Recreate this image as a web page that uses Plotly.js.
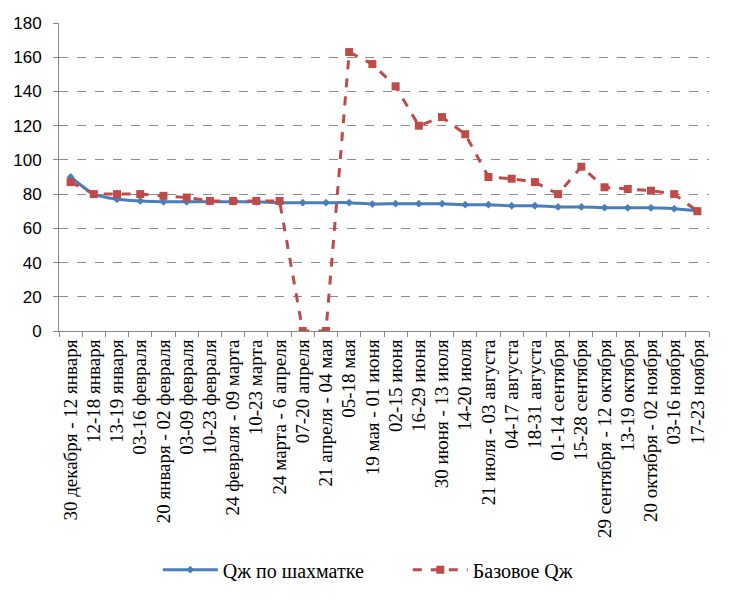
<!DOCTYPE html>
<html>
<head>
<meta charset="utf-8">
<script src="https://cdn.plot.ly/plotly-3.0.1.min.js"></script>
<style>html,body{margin:0;padding:0;background:#fff;}#chart{width:732px;height:602px;}</style>
</head>
<body>
<div id="chart"></div>
<script>
const categories = [
  "30 декабря - 12 января", "12-18 января", "13-19 января", "03-16 февраля",
  "20 января - 02 февраля", "03-09 февраля", "10-23 февраля", "24 февраля - 09 марта",
  "10-23 марта", "24 марта - 6 апреля", "07-20 апреля", "21 апреля - 04 мая",
  "05-18 мая", "19 мая - 01 июня", "02-15 июня", "16-29 июня",
  "30 июня - 13 июля", "14-20 июля", "21 июля - 03 августа", "04-17 августа",
  "18-31 августа", "01-14 сентября", "15-28 сентября", "29 сентября - 12 октября",
  "13-19 октября", "20 октября - 02 ноября", "03-16 ноября", "17-23 ноября"
];
const seriesNames = ["Qж по шахматке", "Базовое Qж"];
const qShakhmatka = [90, 80, 77, 76, 75.5, 75.5, 75.5, 75.5, 75.5, 75, 75, 75, 75, 74.2,
  74.4, 74.4, 74.4, 73.8, 73.8, 73.2, 73.2, 72.5, 72.5, 72.1, 72, 72, 71.5, 70.3];
const qBase = [87, 80, 80, 80, 79, 78, 76, 76, 76, 76, 0, 0, 163, 156,
  143, 120, 125, 115, 90, 89, 87, 80, 96, 84, 83, 82, 80, 70];
const yTicks = [0, 20, 40, 60, 80, 100, 120, 140, 160, 180];

const serif = "Liberation Serif";

const traces = [
  {
    x: categories, y: qShakhmatka, name: seriesNames[0], type: "scatter", mode: "lines+markers",
    line: {color: "#4A7EBB", width: 3, shape: "spline", smoothing: 0.6},
    marker: {symbol: "diamond", size: 6, color: "#4A7EBB"}
  },
  {
    x: categories, y: qBase, name: seriesNames[1], type: "scatter", mode: "lines+markers",
    line: {color: "#BE4B48", width: 3, dash: "dash"},
    marker: {symbol: "square", size: 8, color: "#BE4B48"}
  }
];

const layout = {
  width: 732, height: 602,
  margin: {l: 59, r: 23, t: 23, b: 269},
  paper_bgcolor: "#fff", plot_bgcolor: "#fff",
  showlegend: true,
  legend: {orientation: "h", x: 0.152, xanchor: "left", y: -0.775, yanchor: "middle",
    font: {family: serif, size: 20, color: "#000"},
    itemwidth: 55, entrywidth: 180, entrywidthmode: "pixels", tracegroupgap: 0},
  xaxis: {
    type: "category", tickangle: -90, tickson: "boundaries",
    ticks: "outside", ticklen: 5, tickcolor: "#868686",
    showline: true, linecolor: "#868686", linewidth: 1,
    showgrid: false, zeroline: false, automargin: false,
    range: [-0.5, categories.length - 0.5],
    tickfont: {family: serif, size: 19, color: "#000"}
  },
  yaxis: {
    range: [0, 180], tickvals: yTicks, ticktext: yTicks.map(String),
    ticks: "outside", ticklen: 5, tickcolor: "#868686", ticklabelstandoff: 8,
    showline: true, linecolor: "#868686", linewidth: 1,
    showgrid: true, gridcolor: "#8c8c8c", griddash: "dash", gridwidth: 1,
    zeroline: false, automargin: false,
    tickfont: {family: "Liberation Sans", size: 17, color: "#000"}
  }
};

Plotly.newPlot("chart", traces, layout, {displayModeBar: false, staticPlot: true});
</script>
</body>
</html>
